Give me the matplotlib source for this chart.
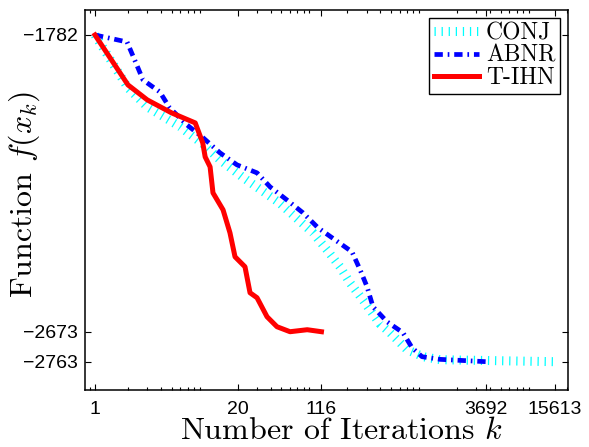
import numpy as np
import matplotlib
matplotlib.use("Agg")
import matplotlib.pyplot as plt
from matplotlib.ticker import LogLocator, NullFormatter

plt.rcParams["font.family"] = ["Liberation Sans", "DejaVu Sans"]
plt.rcParams["mathtext.fontset"] = "cm"
plt.rcParams["lines.scale_dashes"] = False

# data
iters_conj = [1, 2, 3, 6, 9.7, 13.8, 22, 48, 97, 130, 171, 210, 280, 397, 490, 700, 980, 1400, 15613]
f_conj = [-1782, -1941, -1998, -2058, -2110, -2157, -2208, -2286, -2376, -2427,
          -2478, -2525, -2580, -2650, -2676, -2727, -2748, -2757, -2763]

iters_abnr = [1, 1.96, 2.3, 2.74, 3.9, 4.8, 6.9, 9.7, 13.8, 19.7, 30, 39.4, 56, 78.7,
              108, 154, 220, 261, 302, 342, 459, 642, 776, 957, 1400, 3692]
f_abnr = [-1782, -1803, -1857, -1917, -1953, -2001, -2052, -2091, -2136, -2172, -2196,
          -2238, -2277, -2316, -2361, -2397, -2433, -2487, -2538, -2598, -2643, -2676,
          -2721, -2748, -2756, -2763]

iters_tihn = [1, 2, 3, 5, 8.2, 9.6, 10.1, 11.2, 11.9, 14.7, 17, 18.9, 23.3, 25.9, 30,
              37, 45.6, 60, 86, 116]
f_tihn = [-1782, -1932, -1977, -2016, -2046, -2106, -2148, -2178, -2256, -2307, -2376,
          -2448, -2478, -2556, -2571, -2628, -2658, -2673, -2667, -2673]

xticks = [1, 20, 116, 3692, 15613]
xtick_labels = ["1", "20", "116", "3692", "15613"]
yticks = [-2763, -2673, -1782]

fig = plt.figure(figsize=(5.89, 4.47), dpi=100)
ax = fig.add_axes([85 / 589, 1 - 390 / 447, 483 / 589, 380 / 447])

ax.plot(iters_conj, f_conj, color="cyan", lw=6.5, dashes=(0.9, 4.2),
        dash_capstyle="butt", label="CONJ")
ax.plot(iters_abnr, f_abnr, color="blue", lw=3.4, dashes=(6, 3.5, 1.2, 3.5),
        dash_capstyle="butt", label="ABNR")
ax.plot(iters_tihn, f_tihn, color="red", lw=3.6, label="T-IHN")

ax.set_xscale("log")
ax.set_xlim(0.811, 20500)
ax.set_ylim(-2848, -1707)

ax.set_xticks(xticks, labels=xtick_labels)
ax.xaxis.set_minor_locator(LogLocator(base=10, subs=np.arange(2, 10), numticks=20))
ax.xaxis.set_minor_formatter(NullFormatter())
ax.set_yticks(yticks)

ax.tick_params(which="both", direction="in", top=True, right=True, labelsize=14, width=0.8)
ax.tick_params(which="major", length=4)
ax.tick_params(which="minor", length=2.2)
ax.tick_params(axis="x", pad=8)
ax.tick_params(axis="y", pad=5)
for s in ax.spines.values():
    s.set_linewidth(1.1)

ax.set_xlabel(r"Number of Iterations $k$", fontfamily="cmr10", fontsize=23)
ax.set_ylabel(r"Function $f(x_k)$", fontfamily="cmr10", fontsize=23)
ax.xaxis.set_label_coords(0.53, -0.072)
ax.yaxis.set_label_coords(-0.089, 0.515)

leg = ax.legend(loc="upper right", prop={"family": "cmr10", "size": 17},
                fancybox=False, framealpha=1, edgecolor="black",
                handlelength=1.9, handletextpad=0.3, labelspacing=0.0,
                borderpad=0.2, borderaxespad=0.33)
leg.get_frame().set_linewidth(1.0)

fig.savefig("out.png", dpi=100)
